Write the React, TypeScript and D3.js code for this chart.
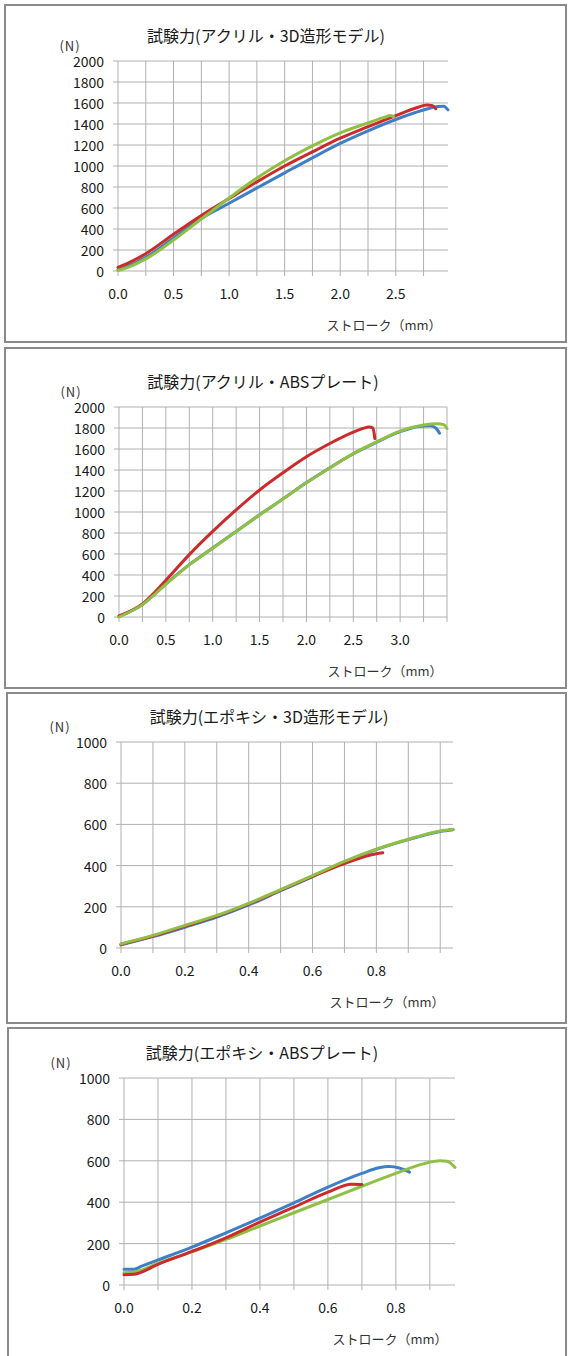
import * as d3 from 'd3';

const BLUE = '#3f7fc6';
const RED = '#cc2b2b';
const GREEN = '#8fc043';

const titles = [
  '試験力(アクリル・3D造形モデル)',
  '試験力(アクリル・ABSプレート)',
  '試験力(エポキシ・3D造形モデル)',
  '試験力(エポキシ・ABSプレート)',
];

// stroke (mm), force (N)
const acr3dBlue = [[0, 10], [0.1, 50], [0.25, 130], [0.5, 315], [0.75, 500], [1.0, 645], [1.25, 790], [1.5, 935], [1.75, 1078], [2.0, 1215], [2.25, 1335], [2.5, 1443], [2.75, 1533], [2.88, 1567], [2.93, 1570], [2.97, 1535]];
const acr3dRed = [[0, 35], [0.1, 80], [0.25, 165], [0.5, 350], [0.75, 528], [1.0, 690], [1.25, 849], [1.5, 1000], [1.75, 1135], [2.0, 1265], [2.25, 1374], [2.5, 1480], [2.7, 1560], [2.78, 1582], [2.83, 1575], [2.86, 1545]];
const acr3dGreen = [[0, 5], [0.1, 40], [0.25, 115], [0.5, 295], [0.75, 495], [1.0, 695], [1.25, 885], [1.5, 1050], [1.75, 1192], [2.0, 1316], [2.25, 1410], [2.4, 1465], [2.45, 1480], [2.48, 1470]];

const acrAbsBlue = [[0, 5], [0.25, 120], [0.5, 316], [0.75, 499], [1.0, 657], [1.25, 815], [1.5, 973], [1.75, 1125], [2.0, 1280], [2.25, 1422], [2.5, 1555], [2.75, 1665], [3.0, 1765], [3.2, 1815], [3.32, 1822], [3.38, 1800], [3.42, 1750]];
const acrAbsRed = [[0, 10], [0.25, 125], [0.5, 350], [0.75, 594], [1.0, 815], [1.25, 1020], [1.5, 1210], [1.75, 1374], [2.0, 1526], [2.25, 1652], [2.5, 1760], [2.6, 1795], [2.67, 1810], [2.71, 1800], [2.73, 1700]];
const acrAbsGreen = [[0, 0], [0.25, 118], [0.5, 312], [0.75, 497], [1.0, 655], [1.25, 813], [1.5, 972], [1.75, 1124], [2.0, 1278], [2.25, 1420], [2.5, 1556], [2.75, 1668], [3.0, 1770], [3.25, 1828], [3.4, 1840], [3.47, 1830], [3.5, 1795]];

const epo3dBlue = [[0, 15], [0.1, 55], [0.2, 101], [0.3, 150], [0.4, 209], [0.5, 278], [0.6, 347], [0.7, 418], [0.8, 478], [0.9, 526], [1.0, 566], [1.04, 574]];
const epo3dRed = [[0, 18], [0.1, 58], [0.2, 106], [0.3, 155], [0.4, 214], [0.5, 281], [0.6, 348], [0.7, 410], [0.8, 458], [0.82, 462]];
const epo3dGreen = [[0, 20], [0.1, 61], [0.2, 110], [0.3, 158], [0.4, 217], [0.5, 283], [0.6, 351], [0.7, 420], [0.8, 480], [0.9, 528], [1.0, 568], [1.04, 576]];

const epoAbsBlue = [[0, 76], [0.03, 76], [0.05, 90], [0.1, 121], [0.2, 183], [0.3, 252], [0.4, 323], [0.5, 397], [0.6, 473], [0.7, 539], [0.75, 566], [0.78, 572], [0.81, 565], [0.84, 545]];
const epoAbsRed = [[0, 50], [0.03, 52], [0.1, 100], [0.2, 162], [0.3, 228], [0.4, 304], [0.5, 376], [0.6, 449], [0.67, 487], [0.7, 486]];
const epoAbsGreen = [[0, 59], [0.03, 62], [0.1, 105], [0.2, 160], [0.3, 220], [0.4, 285], [0.5, 349], [0.6, 413], [0.7, 477], [0.8, 539], [0.88, 585], [0.93, 600], [0.95, 598], [0.974, 568]];

const xLabelsAcr3d = [0, 0.5, 1.0, 1.5, 2.0, 2.5];
const xLabelsAcrAbs = [0, 0.5, 1.0, 1.5, 2.0, 2.5, 3.0];
const xLabelsEpo = [0, 0.2, 0.4, 0.6, 0.8];

const font = '"Noto Sans CJK JP", "Noto Sans", sans-serif';

function Panel({ box, plot, xMax, xStep, yMax, xLabels, title, titleX, nX, series }) {
  const x = d3.scaleLinear().domain([0, xMax]).range([plot.left, plot.right]);
  const y = d3.scaleLinear().domain([0, yMax]).range([plot.bottom, plot.top]);
  const xGrid = d3.range(0, xMax + 1e-9, xStep);
  const yGrid = d3.range(0, yMax + 1, 200);
  const line = d3.line().x((d) => x(d[0])).y((d) => y(d[1])).curve(d3.curveMonotoneX);

  return (
    <g fontFamily={font}>
      <rect x={box.x} y={box.y} width={box.w} height={box.h} fill="#fff" stroke="#8a8a8a" strokeWidth={2} />
      <text x={titleX} y={plot.top - 26} textAnchor="middle" dominantBaseline="central" fontSize={16} fill="#1a1a1a">{title}</text>
      <text x={nX} y={plot.top - 16} textAnchor="middle" dominantBaseline="central" fontSize={13} letterSpacing={1} fill="#333">(N)</text>
      {yGrid.map((v) => (
        <g key={'y' + v}>
          <line x1={plot.left - 5} x2={plot.right} y1={y(v)} y2={y(v)} stroke="#b0b0b0" strokeWidth={1} />
          <text x={plot.left - 14} y={y(v)} textAnchor="end" dominantBaseline="central" fontSize={14} fill="#1a1a1a">{v}</text>
        </g>
      ))}
      {xGrid.map((v) => (
        <line key={'x' + v} x1={x(v)} x2={x(v)} y1={plot.top} y2={plot.bottom + 5} stroke="#b0b0b0" strokeWidth={1} />
      ))}
      {xLabels.map((v) => (
        <text key={'xl' + v} x={x(v)} y={plot.bottom + 22} textAnchor="middle" dominantBaseline="central" fontSize={14} fill="#1a1a1a">{v.toFixed(1)}</text>
      ))}
      <text x={plot.left + 266} y={plot.bottom + 53} textAnchor="middle" dominantBaseline="central" fontSize={13} fill="#333">ストローク（mm）</text>
      {series.map((s, i) => (
        <path key={i} d={line(s.data)} fill="none" stroke={s.color} strokeWidth={3} strokeLinecap="round" strokeLinejoin="round" />
      ))}
    </g>
  );
}

export default function App() {
  return (
    <>
      <style>{'body{margin:0}'}</style>
      <svg width={568} height={1356} style={{ display: 'block' }}>
        <rect width={568} height={1356} fill="#fff" />
        <Panel
          box={{ x: 5, y: 5, w: 561, h: 337 }}
          plot={{ left: 118, right: 448, top: 61, bottom: 271 }}
          xMax={2.97} xStep={0.25} yMax={2000} xLabels={xLabelsAcr3d}
          title={titles[0]} titleX={266} nX={70}
          series={[{ data: acr3dBlue, color: BLUE }, { data: acr3dRed, color: RED }, { data: acr3dGreen, color: GREEN }]}
        />
        <Panel
          box={{ x: 5, y: 348, w: 561, h: 340 }}
          plot={{ left: 119, right: 447, top: 407, bottom: 617 }}
          xMax={3.5} xStep={0.25} yMax={2000} xLabels={xLabelsAcrAbs}
          title={titles[1]} titleX={263} nX={71}
          series={[{ data: acrAbsBlue, color: BLUE }, { data: acrAbsRed, color: RED }, { data: acrAbsGreen, color: GREEN }]}
        />
        <Panel
          box={{ x: 7, y: 693, w: 559, h: 330 }}
          plot={{ left: 121, right: 453, top: 742, bottom: 948 }}
          xMax={1.04} xStep={0.1} yMax={1000} xLabels={xLabelsEpo}
          title={titles[2]} titleX={269} nX={60}
          series={[{ data: epo3dBlue, color: BLUE }, { data: epo3dRed, color: RED }, { data: epo3dGreen, color: GREEN }]}
        />
        <Panel
          box={{ x: 8, y: 1028, w: 558, h: 340 }}
          plot={{ left: 124, right: 455, top: 1078, bottom: 1285 }}
          xMax={0.974} xStep={0.1} yMax={1000} xLabels={xLabelsEpo}
          title={titles[3]} titleX={262} nX={61}
          series={[{ data: epoAbsBlue, color: BLUE }, { data: epoAbsGreen, color: GREEN }, { data: epoAbsRed, color: RED }]}
        />
      </svg>
    </>
  );
}
